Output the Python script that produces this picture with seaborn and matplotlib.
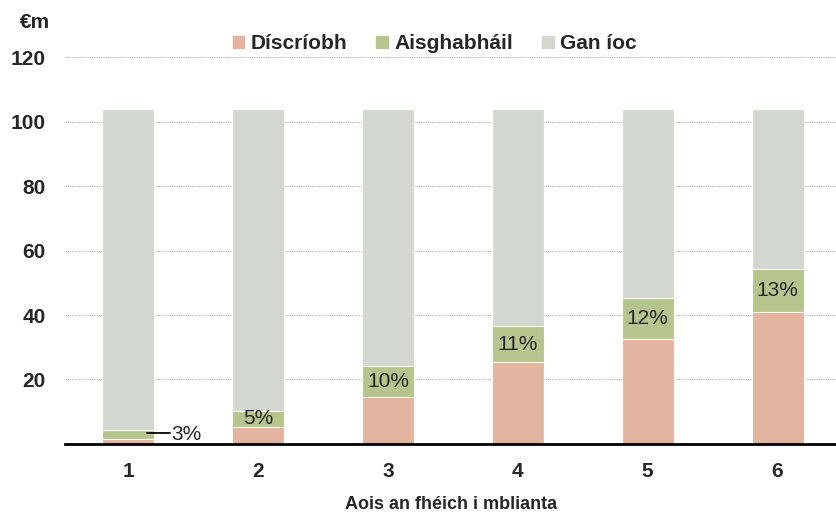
import numpy as np
import pandas as pd
import matplotlib
matplotlib.use('Agg')
import matplotlib.pyplot as plt
import seaborn as sns
from matplotlib.patches import Patch

# Dáta (€m)
aois = ['1', '2', '3', '4', '5', '6']
discriobh = [1.5, 5.2, 14.5, 25.3, 32.7, 40.8]
aisghabhail = [2.8, 5.1, 9.7, 11.3, 12.5, 13.5]
iomlan = [104.0, 104.0, 104.0, 104.0, 104.0, 104.0]
lipeid = ['3%', '5%', '10%', '11%', '12%', '13%']

dath_dearg = '#E3B5A0'
dath_glas = '#B5C58D'
dath_liath = '#D2D7D0'

sns.set_theme(style='white')
plt.rcParams['font.family'] = ['Liberation Sans', 'DejaVu Sans']

df = pd.DataFrame({
    'aois': aois,
    'discriobh': discriobh,
    'aisghabhail': aisghabhail,
    'iomlan': iomlan,
})
df['barr_glas'] = df['discriobh'] + df['aisghabhail']

fig, ax = plt.subplots(figsize=(8.36, 5.15), dpi=100)
fig.subplots_adjust(left=0.078, right=1.0, top=0.889, bottom=0.138)

# Barraí carntha: iomlán, ansin dearg+glas, ansin dearg
sns.barplot(data=df, x='aois', y='iomlan', color=dath_liath, width=0.4,
            saturation=1, edgecolor='white', linewidth=0.8, ax=ax)
sns.barplot(data=df, x='aois', y='barr_glas', color=dath_glas, width=0.4,
            saturation=1, edgecolor='white', linewidth=0.8, ax=ax)
sns.barplot(data=df, x='aois', y='discriobh', color=dath_dearg, width=0.4,
            saturation=1, edgecolor='white', linewidth=0.8, ax=ax)

# Lipéid chéatadáin
for i, row in df.iterrows():
    lar = row['discriobh'] + row['aisghabhail'] / 2
    if i == 0:
        ax.plot([i + 0.145, i + 0.32], [lar + 0.6, lar + 0.6], color='black', lw=1.3)
        ax.text(i + 0.335, lar, lipeid[i], ha='left', va='center', fontsize=15)
    else:
        ax.text(i, lar, lipeid[i], ha='center', va='center', fontsize=15)

ax.set_ylim(0, 120)
ax.set_xlim(-0.485, 5.45)
ax.set_yticks([20, 40, 60, 80, 100, 120])
ax.yaxis.grid(True, linestyle=(0, (1, 1)), color='#B0B0B0', linewidth=0.8)
ax.set_axisbelow(True)

for s in ['top', 'right', 'left']:
    ax.spines[s].set_visible(False)
ax.spines['bottom'].set_color('black')
ax.spines['bottom'].set_linewidth(2)

ax.tick_params(axis='y', length=0, labelsize=15, pad=14)
ax.tick_params(axis='x', length=0, labelsize=15, pad=13)
for lbl in ax.get_xticklabels() + ax.get_yticklabels():
    lbl.set_fontweight('bold')

ax.set_ylabel('')
ax.set_xlabel('Aois an fhéich i mblianta', fontsize=13, fontweight='bold', labelpad=11)

fig.text(0.024, 0.957, '€m', fontsize=15, fontweight='bold', ha='left', va='center')

handles = [Patch(color=dath_dearg, label='Díscríobh'),
           Patch(color=dath_glas, label='Aisghabháil'),
           Patch(color=dath_liath, label='Gan íoc')]
leg = fig.legend(handles=handles, loc='center', bbox_to_anchor=(0.52, 0.915), ncol=3,
                 frameon=False, handlelength=0.55, handleheight=0.55, handletextpad=0.3,
                 columnspacing=1.4, prop={'weight': 'bold', 'size': 15})

fig.savefig('out.png', dpi=100)
